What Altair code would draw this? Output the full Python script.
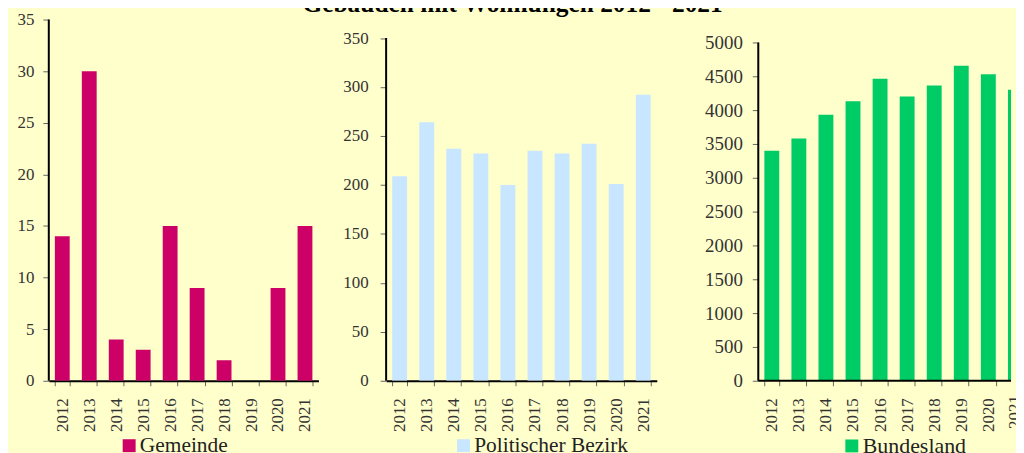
import altair as alt
import pandas as pd

years = ["2012", "2013", "2014", "2015", "2016", "2017", "2018", "2019", "2020", "2021"]
gemeinde = [14, 30, 4, 3, 15, 9, 2, 0, 9, 15]
bezirk = [209, 264, 237, 232, 200, 235, 232, 242, 201, 292]
bundesland = [3400, 3580, 3930, 4130, 4465, 4200, 4365, 4655, 4530, 4300]

series_names = ["Gemeinde", "Politischer Bezirk", "Bundesland"]
colors = ["#CC0066", "#C8E6FF", "#00CC66"]
y_ticks = [
    [0, 5, 10, 15, 20, 25, 30, 35],
    [0, 50, 100, 150, 200, 250, 300, 350],
    [0, 500, 1000, 1500, 2000, 2500, 3000, 3500, 4000, 4500, 5000],
]
y_tops = [35, 350, 5000]
scale_max = [35.0, 368.9, 5338.0]
y_label_size = [17, 17, 19]
y_label_pad = [9, 12, 10]
extents = [41, 58, 92]
widths = [271, 272, 254]
legend_x = [70, 67, 83]
legend_font = [21.5, 21.5, 22]
legend_y = 417.5

FONT = "Liberation Serif"
H = 363
X_LABEL_SIZE = 17
X_LABEL_PAD = 12


def panel(i, values):
    df = pd.DataFrame({"Jahr": years, "Wert": values, "Reihe": series_names[i]})
    cut = i == 2  # the right panel runs past the page edge, as in the original
    if cut:
        xscale = alt.Scale(paddingInner=0.45, paddingOuter=0.225, range=[0, 272])
    else:
        xscale = alt.Scale(paddingInner=0.45, paddingOuter=0.225)
    axis_kw = dict(
        labelAngle=270,
        tickBand="extent",
        tickSize=5,
        tickColor="#666666",
        domainColor="black",
        domainWidth=2,
        labelFont=FONT,
        labelFontSize=X_LABEL_SIZE,
        labelColor="#333333",
        labelPadding=X_LABEL_PAD,
    )
    if cut:
        axis_kw["values"] = years[:-1]
        axis_kw["domain"] = False
    xaxis = alt.Axis(**axis_kw)
    x = alt.X("Jahr:N", sort=years, title=None, scale=xscale, axis=xaxis)

    yscale = alt.Scale(domain=[0, scale_max[i]], nice=False, zero=True)
    yaxis = alt.Axis(
        values=y_ticks[i],
        format="d",
        domain=False,
        grid=False,
        minExtent=extents[i],
        tickSize=6,
        tickColor="#666666",
        labelFont=FONT,
        labelFontSize=y_label_size[i],
        labelColor="#333333",
        labelPadding=y_label_pad[i],
    )
    bars = alt.Chart(df).mark_bar(clip=True).encode(
        x=x,
        y=alt.Y("Wert:Q", title=None, scale=yscale, axis=yaxis),
        color=alt.Color(
            "Reihe:N",
            scale=alt.Scale(domain=[series_names[i]], range=[colors[i]]),
            legend=alt.Legend(
                title=None,
                orient="none",
                legendX=legend_x[i],
                legendY=legend_y,
                symbolType="square",
                symbolSize=169,
                symbolStrokeWidth=0,
                symbolOpacity=1,
                labelFont=FONT,
                labelFontSize=legend_font[i],
                labelColor="#222222",
                labelOffset=0,
                padding=0,
            ),
        ),
    )
    rule_df = pd.DataFrame({"y0": [0], "y1": [y_tops[i]]})
    rule = alt.Chart(rule_df).mark_rule(color="black", strokeWidth=2).encode(
        x=alt.value(0),
        y=alt.Y("y0:Q", title=None, scale=yscale, axis=yaxis),
        y2="y1:Q",
    )
    layers = [bars, rule]
    if cut:
        base_line = alt.Chart(rule_df).mark_rule(color="black", strokeWidth=2).encode(
            x=alt.value(0), x2=alt.value(widths[i]), y=alt.value(H)
        )
        last_df = pd.DataFrame({"Jahr": [years[-1]]})
        last_label = alt.Chart(last_df).mark_text(
            angle=270,
            align="right",
            baseline="middle",
            font=FONT,
            fontSize=X_LABEL_SIZE,
            color="#333333",
        ).encode(
            x=x,
            y=alt.value(H + X_LABEL_PAD + 2.5),
            text="Jahr:N",
        )
        layers += [base_line, last_label]
    return alt.layer(*layers).properties(width=widths[i], height=H)


chart = (
    alt.hconcat(
        panel(0, gemeinde),
        panel(1, bezirk),
        panel(2, bundesland),
        spacing=10,
        title=alt.TitleParams(
            "Gebäuden mit Wohnungen 2012 - 2021",
            font=FONT,
            fontSize=25.5,
            fontWeight="bold",
            color="black",
            anchor="start",
            dx=296,
            offset=-7,
        ),
    )
    .resolve_scale(color="independent", y="independent", x="independent")
    .resolve_legend(color="independent")
    .properties(
        background="#FFFFCC",
        padding={"top": -17.5, "left": 0, "right": -13, "bottom": 0},
    )
    .configure_view(stroke=None)
)

chart.save("out.html", embed_options={"renderer": "svg", "actions": False})
